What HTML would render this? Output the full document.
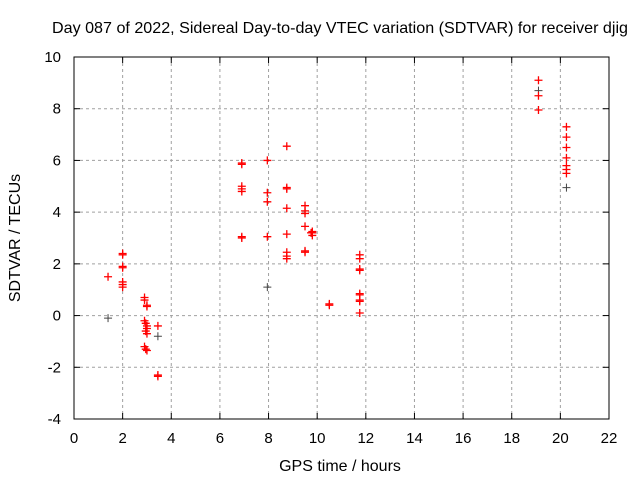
<!DOCTYPE html>
<html><head><meta charset="utf-8"><style>
body{margin:0;background:#fff;font-family:"Liberation Sans",sans-serif}
</style></head><body>
<svg id="chart" width="640" height="480" xmlns="http://www.w3.org/2000/svg" font-family="Liberation Sans, sans-serif" font-size="15">
<rect width="640" height="480" fill="#fff"/>
<g id="grid"></g><g id="axes"></g><g id="marks"></g>
<text x="52" y="33" textLength="576" lengthAdjust="spacingAndGlyphs" font-size="16">Day 087 of 2022, Sidereal Day-to-day VTEC variation (SDTVAR) for receiver djig</text>
<text x="340" y="471" text-anchor="middle" font-size="16">GPS time / hours</text>
<text transform="translate(20,238) rotate(-90)" text-anchor="middle" font-size="16">SDTVAR / TECUs</text>
</svg>
<script>
const xTicks=[0,2,4,6,8,10,12,14,16,18,20,22];
const yTicks=[-4,-2,0,2,4,6,8,10];
const redX=[1.4,2.0,2.0,2.0,2.0,2.0,2.0,2.0,2.9,2.9,3.0,3.0,2.9,2.95,3.0,3.0,2.95,3.0,2.9,2.95,3.0,3.45,3.45,3.45,6.9,6.9,6.9,6.9,6.9,6.9,6.9,7.95,7.95,7.95,7.95,8.75,8.75,8.75,8.75,8.75,8.75,8.75,8.75,9.5,9.5,9.5,9.5,9.5,9.5,9.8,9.8,9.8,9.75,10.5,10.5,11.75,11.75,11.75,11.75,11.75,11.75,11.75,11.75,11.75,19.1,19.1,19.1,20.25,20.25,20.25,20.25,20.25,20.25,20.25];
const redY=[1.5,2.4,2.35,1.9,1.85,1.3,1.2,1.1,0.7,0.6,0.4,0.35,-0.2,-0.3,-0.4,-0.5,-0.6,-0.7,-1.2,-1.3,-1.35,-0.4,-2.3,-2.35,5.9,5.85,5.0,4.9,4.8,3.05,3.0,6.0,4.75,4.4,3.05,6.55,4.95,4.9,4.15,3.15,2.45,2.3,2.2,4.25,4.05,3.95,3.45,2.5,2.45,3.2,3.1,3.25,3.2,0.45,0.4,2.35,2.2,1.8,1.75,0.85,0.8,0.6,0.55,0.1,9.1,8.5,7.95,7.3,6.9,6.5,6.1,5.8,5.65,5.5];
const blackX=[1.4,3.45,7.95,19.1,20.25];
const blackY=[-0.1,-0.8,1.1,8.7,4.95];
const X0=74,X1=609,Y0=419,Y1=57;
const sx=v=>X0+(v-0)/(22-0)*(X1-X0);
const sy=v=>Y0-(v+4)/14*(Y0-Y1);
const NS="http://www.w3.org/2000/svg";
function mk(t,a,p){const e=document.createElementNS(NS,t);for(const k in a)e.setAttribute(k,a[k]);p.appendChild(e);return e;}
const grid=document.getElementById('grid'),axes=document.getElementById('axes'),marks=document.getElementById('marks');
xTicks.forEach(v=>{const x=sx(v);
 if(v>0&&v<22){const g=mk('line',{x1:x,x2:x,y1:Y1,y2:Y0,stroke:'#a0a0a0','stroke-dasharray':'3,3'},grid);}
 mk('line',{x1:x,x2:x,y1:Y0,y2:Y0-6,stroke:'#000'},axes);mk('line',{x1:x,x2:x,y1:Y1,y2:Y1+6,stroke:'#000'},axes);
 const t=mk('text',{x:x,y:Y0+24,'text-anchor':'middle'},axes);t.textContent=v;
 });
yTicks.forEach(v=>{const y=sy(v);
 if(v>-4&&v<10){const g=mk('line',{x1:X0,x2:X1,y1:y,y2:y,stroke:'#a0a0a0','stroke-dasharray':'3,3'},grid);}
 mk('line',{x1:X0,x2:X0+6,y1:y,y2:y,stroke:'#000'},axes);mk('line',{x1:X1,x2:X1-6,y1:y,y2:y,stroke:'#000'},axes);
 const t=mk('text',{x:X0-13,y:y+5,'text-anchor':'end'},axes);t.textContent=v;
 });
const fr=mk('rect',{x:X0,y:Y1,width:X1-X0,height:Y0-Y1,fill:'none',stroke:'#000'},axes);

function plus(x,y,c,w,name){const g=mk('path',{d:`M${x-4},${y}h8M${x},${y-4}v8`,stroke:c,'stroke-width':w,fill:'none'},marks);
 }
blackX.forEach((v,i)=>plus(sx(v),sy(blackY[i]),'#444',1,'point-black'));
redX.forEach((v,i)=>plus(sx(v),sy(redY[i]),'#f00',1.3,'point-red'));
</script>
</body></html>
